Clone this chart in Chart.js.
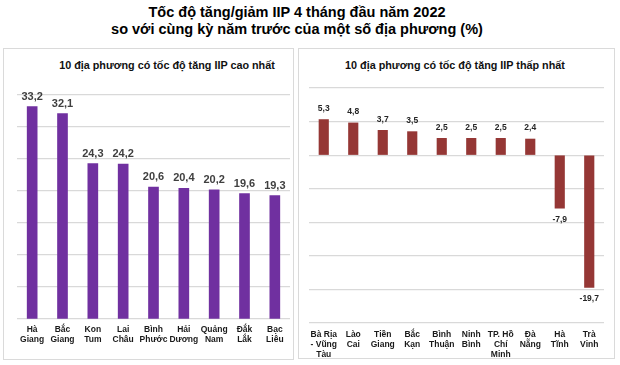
<!DOCTYPE html>
<html>
<head>
<meta charset="utf-8">
<script src="https://cdn.jsdelivr.net/npm/chart.js@4.4.1/dist/chart.umd.min.js"></script>
<style>
  html, body { margin:0; padding:0; background:#fff; }
  #wrap { position:relative; width:620px; height:365px; overflow:hidden; font-family:"Liberation Sans", Arial, sans-serif; }
  .title { position:absolute; left:0; top:4px; width:594px; text-align:center; font-weight:bold; font-size:14.5px; line-height:17px; color:#000; }
  .panel { position:absolute; border:1.5px solid #dadada; box-sizing:border-box; }
  .sub { position:absolute; font-weight:bold; font-size:10.8px; color:#111; text-align:center; white-space:nowrap; }
  canvas { position:absolute; }
</style>
</head>
<body>
<div id="wrap">
  <div class="title">Tốc độ tăng/giảm IIP 4 tháng đầu năm 2022<br>so với cùng kỳ năm trước của một số địa phương (%)</div>
  <div class="panel" style="left:3px;top:48px;width:291px;height:312px;"></div>
  <div class="panel" style="left:298px;top:48px;width:317px;height:311px;"></div>
  <div class="sub" style="left:37px;top:59px;width:260px;">10 địa phương có tốc độ tăng IIP cao nhất</div>
  <div class="sub" style="left:325px;top:59px;width:260px;">10 địa phương có tốc độ tăng IIP thấp nhất</div>
  <div style="position:absolute;left:3px;top:49px;width:290px;height:316px;"><canvas id="c1"></canvas></div>
  <div style="position:absolute;left:298px;top:49px;width:316px;height:316px;"><canvas id="c2"></canvas></div>
</div>
<script>
// ---- Data ----
const topCategories = [["Hà","Giang"],["Bắc","Giang"],["Kon","Tum"],["Lai","Châu"],["Bình","Phước"],["Hải","Dương"],["Quảng","Nam"],["Đắk","Lắk"],["Bạc","Liêu"]];
const topValues = [33.2, 32.1, 24.3, 24.2, 20.6, 20.4, 20.2, 19.6, 19.3];
const lowCategories = [["Bà Rịa","- Vũng","Tàu"],["Lào","Cai"],["Tiền","Giang"],["Bắc","Kạn"],["Bình","Thuận"],["Ninh","Bình"],["TP. Hồ","Chí","Minh"],["Đà","Nẵng"],["Hà","Tĩnh"],["Trà","Vinh"]];
const lowValues = [5.3, 4.8, 3.7, 3.5, 2.5, 2.5, 2.5, 2.4, -7.9, -19.7];
const topAxis = { min: 0, max: 35, step: 5 };
const lowAxis = { min: -25, max: 10, step: 5 };

const FONT = "'Liberation Sans', Arial, sans-serif";

function valueLabels(fontSize, color, gap) {
  return {
    id: 'valueLabels',
    afterDatasetsDraw(chart) {
      const ctx = chart.ctx;
      ctx.save();
      ctx.font = 'bold ' + fontSize + 'px ' + FONT;
      ctx.fillStyle = color;
      ctx.textAlign = 'center';
      ctx.textBaseline = 'middle';
      const meta = chart.getDatasetMeta(0);
      const data = chart.data.datasets[0].data;
      meta.data.forEach((bar, i) => {
        const v = data[i];
        const txt = v.toFixed(1).replace('.', ',');
        const y = v >= 0 ? bar.y - gap : bar.y + gap;
        ctx.fillText(txt, bar.x, y);
      });
      ctx.restore();
    }
  };
}

function makeChart(id, cats, vals, axis, color, opts) {
  return new Chart(document.getElementById(id), {
    type: 'bar',
    data: { labels: cats, datasets: [{ data: vals, backgroundColor: color, barThickness: opts.barW }] },
    options: {
      responsive: true,
      maintainAspectRatio: false,
      animation: false,
      layout: { padding: { top: opts.top, right: opts.right, bottom: 0, left: 0 } },
      plugins: { legend: { display: false }, tooltip: { enabled: false }, title: { display: false } },
      scales: {
        x: {
          grid: { display: false, drawTicks: false },
          border: { display: false },
          ticks: { color: '#1a1a1a', font: { family: FONT, size: 8.5, weight: 'bold', lineHeight: 10 / 8.5 }, padding: opts.tickPad, maxRotation: 0, autoSkip: false },
          afterFit(s) { s.height = opts.xH; }
        },
        y: {
          min: axis.min, max: axis.max,
          ticks: { display: false, stepSize: axis.step },
          grid: { color: '#d9d9d9', lineWidth: 1.2, drawTicks: false },
          border: { display: false },
          afterFit(s) { s.width = opts.left; }
        }
      }
    },
    plugins: [valueLabels(opts.labSize, opts.labColor, opts.gap)]
  });
}

makeChart('c1', topCategories, topValues, topAxis, '#7030a0',
  { barW: 10, top: 46, right: 3, left: 14, xH: 46, tickPad: 6, labSize: 11, labColor: '#404040', gap: 10 });
makeChart('c2', lowCategories, lowValues, lowAxis, '#953735',
  { barW: 9.5, top: 39, right: 10, left: 11, xH: 42, tickPad: 7, labSize: 8.5, labColor: '#262626', gap: 11 });
</script>
</body>
</html>
